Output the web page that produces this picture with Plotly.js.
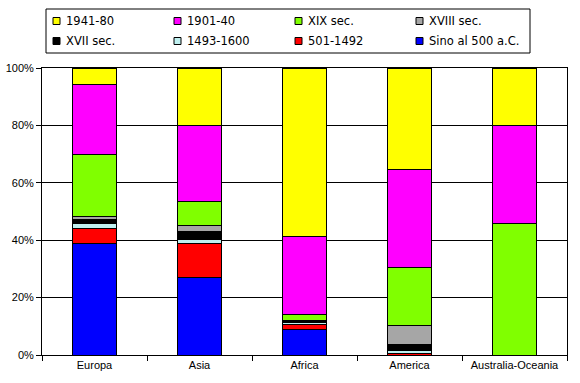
<!DOCTYPE html>
<html><head><meta charset="utf-8">
<script src="https://cdn.plot.ly/plotly-3.0.1.min.js"></script>
<style>html,body{margin:0;padding:0;background:#fff;}</style>
</head><body>
<div id="chart" style="width:580px;height:383px;"></div>
<script>
const categories = ["Europa", "Asia", "Africa", "America", "Australia-Oceania"];
const seriesNames = ["Sino al 500 a.C.", "501-1492", "1493-1600", "XVII sec.", "XVIII sec.", "XIX sec.", "1901-40", "1941-80"];
const sino500 = [38.7, 27.1, 9.0, 0, 0];
const s501_1492 = [5.4, 11.8, 1.7, 0.4, 0];
const s1493_1600 = [1.8, 1.5, 0.6, 1.1, 0];
const sec17 = [1.4, 2.6, 0.5, 2.3, 0];
const sec18 = [1.1, 2.0, 0.2, 6.5, 0];
const sec19 = [21.5, 8.5, 2.0, 20.2, 45.9];
const s1901_40 = [24.2, 26.3, 27.2, 34.2, 34.0];
const s1941_80 = [5.9, 20.2, 58.8, 35.3, 20.1];
const seriesValues = [sino500, s501_1492, s1493_1600, sec17, sec18, sec19, s1901_40, s1941_80];
const colors = ["#0000FF", "#FF0000", "#BFF0F0", "#000000", "#A6A6A6", "#80FF00", "#FF00FF", "#FFFF00"];
const yTickVals = [0, 20, 40, 60, 80, 100];
const yTickText = ["0%", "20%", "40%", "60%", "80%", "100%"];

const traces = seriesNames.map((n, i) => ({
  type: 'bar', name: n, x: categories, y: seriesValues[i],
  marker: {color: colors[i], line: {color: '#000', width: 1}},
  hoverinfo: 'none', showlegend: false
}));

// plot area in pixels
const W = 580, H = 383;
const PL = 42, PR = 567, PT = 68, PB = 355;
const px = v => (v - PL) / (PR - PL);
const py = v => (PB - v) / (PB - PT);

// manual legend (Excel style), built from the series arrays
const legendOrder = seriesNames.map((n, i) => i).reverse();
const colX = [53, 174, 295, 416];
const rowY = [21, 41];
const shapes = [{
  type: 'rect', xref: 'paper', yref: 'paper',
  x0: px(46), x1: px(530), y0: py(9), y1: py(53),
  line: {color: '#000', width: 1}, fillcolor: '#fff', layer: 'above'
}];
const annotations = [];
legendOrder.forEach((si, k) => {
  const c = k % 4, r = Math.floor(k / 4);
  const x = colX[c], y = rowY[r];
  shapes.push({
    type: 'rect', xref: 'paper', yref: 'paper',
    x0: px(x), x1: px(x + 7), y0: py(y + 3.5), y1: py(y - 3.5),
    line: {color: '#000', width: 1}, fillcolor: colors[si], layer: 'above'
  });
  annotations.push({
    xref: 'paper', yref: 'paper', x: px(x + 11), y: py(y),
    xanchor: 'left', yanchor: 'middle', showarrow: false,
    text: seriesNames[si],
    font: {family: 'DejaVu Sans, Verdana, sans-serif', size: 11.5, color: '#000'}
  });
});

const axFont = {family: 'Liberation Sans, Arial, sans-serif', size: 11, color: '#000'};
const layout = {
  width: W, height: H,
  margin: {l: PL, r: W - PR, t: PT, b: H - PB, pad: 0},
  barmode: 'stack', bargap: 0.59,
  paper_bgcolor: '#fff', plot_bgcolor: '#fff',
  font: axFont,
  showlegend: false,
  shapes: shapes,
  annotations: annotations,
  xaxis: {
    showline: true, linecolor: '#000', linewidth: 1, mirror: true,
    ticks: 'outside', tickson: 'boundaries', ticklen: 5, tickcolor: '#000',
    tickangle: 0, showgrid: false, tickfont: axFont, fixedrange: true,
    automargin: false
  },
  yaxis: {
    range: [0, 100], tickvals: yTickVals, ticktext: yTickText,
    ticks: 'outside', ticklen: 5, tickcolor: '#000',
    showline: true, linecolor: '#000', linewidth: 1, mirror: true,
    showgrid: true, gridcolor: '#000', gridwidth: 1,
    zeroline: false, tickfont: axFont, fixedrange: true, automargin: false
  }
};
Plotly.newPlot('chart', traces, layout, {displayModeBar: false, staticPlot: true});
</script>
</body></html>
